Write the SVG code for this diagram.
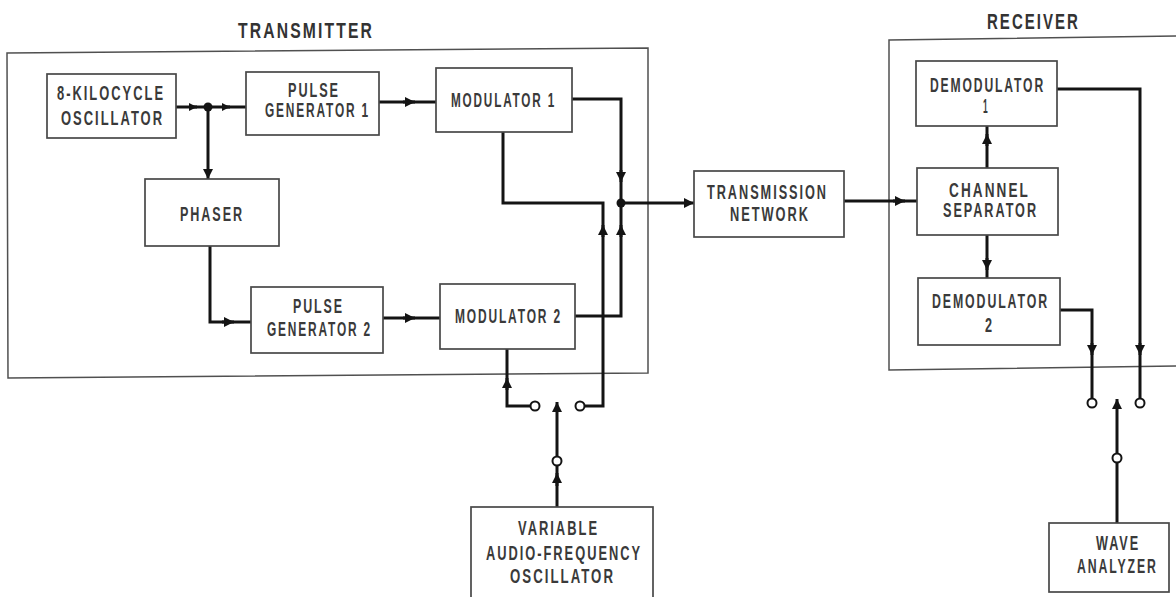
<svg xmlns="http://www.w3.org/2000/svg" width="1176" height="597" viewBox="0 0 1176 597">
<style>
.frame{fill:none;stroke:#505050;stroke-width:1.5}
.box{fill:#fff;stroke:#484848;stroke-width:1.7}
.t{font-family:"Liberation Sans Narrow","Liberation Sans",Arial,sans-serif;font-weight:bold;font-size:19.5px;fill:#3a3a3a;letter-spacing:3px}
.title{font-size:22px;fill:#333}
.w{fill:none;stroke:#141414;stroke-width:3;stroke-linejoin:miter}
.c{fill:#fff;stroke:#141414;stroke-width:2}
.dot{fill:#141414}
</style>
<defs>
<marker id="ah" viewBox="0 0 10 10" refX="10" refY="5" markerWidth="12" markerHeight="10" markerUnits="userSpaceOnUse" orient="auto"><path d="M0,0 L10,5 L0,10 Z" fill="#141414"/></marker>
<marker id="ahs" viewBox="0 0 10 10" refX="10" refY="5" markerWidth="8" markerHeight="8" markerUnits="userSpaceOnUse" orient="auto"><path d="M0,0 L10,5 L0,10 Z" fill="#141414"/></marker>
</defs>
<rect width="1176" height="597" fill="#fff"/>

<g id="transmitter">
<path class="frame" d="M7,53 L648,48 L648,373 L8,378 Z"/>
<text class="t title" x="238" y="38" textLength="136" lengthAdjust="spacingAndGlyphs">TRANSMITTER</text>
</g>
<g id="receiver">
<path class="frame" d="M889,40 L1180,36 L1180,366 L889,370 Z"/>
<text class="t title" x="987" y="29" textLength="93" lengthAdjust="spacingAndGlyphs">RECEIVER</text>
</g>

<g id="connectors">
<path class="w" d="M176,107 H246"/>
<path class="w" d="M189,107 H197" marker-end="url(#ahs)"/>
<path class="w" d="M222,107 H230" marker-end="url(#ahs)"/>
<path class="w" d="M208,107 V179" marker-end="url(#ah)"/>
<path class="w" d="M210,246 V322 H251"/>
<path class="w" d="M222,322 H234" marker-end="url(#ah)"/>
<path class="w" d="M379,102 H436"/>
<path class="w" d="M403,102 H415" marker-end="url(#ah)"/>
<path class="w" d="M383,318 H440"/>
<path class="w" d="M403,318 H415" marker-end="url(#ah)"/>
<path class="w" d="M572,99 H621 V203"/>
<path class="w" d="M621,170 V182" marker-end="url(#ah)"/>
<path class="w" d="M503,132 V203 H603 V406 H584.5"/>
<path class="w" d="M603,237 V225" marker-end="url(#ah)"/>
<path class="w" d="M575,316 H621 V203"/>
<path class="w" d="M621,237 V225" marker-end="url(#ah)"/>
<path class="w" d="M621,203 H694" marker-end="url(#ah)"/>
<path class="w" d="M507,349 V406 H530.5"/>
<path class="w" d="M507,390 V378" marker-end="url(#ah)"/>
<path class="w" d="M557,507 V465.5"/>
<path class="w" d="M557,486 V473" marker-end="url(#ah)"/>
<path class="w" d="M557,456.5 V402" marker-end="url(#ah)"/>
<path class="w" d="M844,201 H917"/>
<path class="w" d="M893,201 H905" marker-end="url(#ah)"/>
<path class="w" d="M987,168 V126"/>
<path class="w" d="M987,146 V134" marker-end="url(#ah)"/>
<path class="w" d="M987,235 V278"/>
<path class="w" d="M987,258 V270" marker-end="url(#ah)"/>
<path class="w" d="M1057,89 H1140 V398.5"/>
<path class="w" d="M1140,343 V355" marker-end="url(#ah)"/>
<path class="w" d="M1060,310 H1092 V398.5"/>
<path class="w" d="M1092,343 V355" marker-end="url(#ah)"/>
<path class="w" d="M1117,523 V462.5"/>
<path class="w" d="M1117,453.5 V399" marker-end="url(#ah)"/>
<circle class="dot" cx="208" cy="107" r="4.5"/>
<circle class="dot" cx="621" cy="203" r="4.5"/>
<circle class="c" cx="535" cy="406" r="4.5"/>
<circle class="c" cx="580" cy="406" r="4.5"/>
<circle class="c" cx="557" cy="461" r="4.5"/>
<circle class="c" cx="1092" cy="403" r="4.5"/>
<circle class="c" cx="1140" cy="403" r="4.5"/>
<circle class="c" cx="1117" cy="458" r="4.5"/>
</g>

<g id="oscillator">
<rect class="box" x="47" y="74" width="129" height="64"/>
<text class="t" x="57" y="100" textLength="108" lengthAdjust="spacingAndGlyphs">8-KILOCYCLE</text>
<text class="t" x="61" y="125" textLength="103" lengthAdjust="spacingAndGlyphs">OSCILLATOR</text>
</g>
<g id="pulse-generator-1">
<rect class="box" x="246" y="72" width="133" height="63"/>
<text class="t" x="288" y="97" textLength="52" lengthAdjust="spacingAndGlyphs">PULSE</text>
<text class="t" x="265" y="117" textLength="105" lengthAdjust="spacingAndGlyphs">GENERATOR 1</text>
</g>
<g id="phaser">
<rect class="box" x="145" y="179" width="134" height="67"/>
<text class="t" x="180" y="221" textLength="64" lengthAdjust="spacingAndGlyphs">PHASER</text>
</g>
<g id="pulse-generator-2">
<rect class="box" x="251" y="287" width="132" height="66"/>
<text class="t" x="293" y="313" textLength="51" lengthAdjust="spacingAndGlyphs">PULSE</text>
<text class="t" x="267" y="336" textLength="105" lengthAdjust="spacingAndGlyphs">GENERATOR 2</text>
</g>
<g id="modulator-1">
<rect class="box" x="436" y="68" width="136" height="64"/>
<text class="t" x="451" y="107" textLength="105" lengthAdjust="spacingAndGlyphs">MODULATOR 1</text>
</g>
<g id="modulator-2">
<rect class="box" x="440" y="284" width="135" height="65"/>
<text class="t" x="455" y="323" textLength="107" lengthAdjust="spacingAndGlyphs">MODULATOR 2</text>
</g>
<g id="audio-oscillator">
<rect class="box" x="471" y="507" width="182" height="93"/>
<text class="t" x="518" y="535" textLength="81" lengthAdjust="spacingAndGlyphs">VARIABLE</text>
<text class="t" x="486" y="560" textLength="156" lengthAdjust="spacingAndGlyphs">AUDIO-FREQUENCY</text>
<text class="t" x="510" y="583" textLength="105" lengthAdjust="spacingAndGlyphs">OSCILLATOR</text>
</g>
<g id="transmission-network">
<rect class="box" x="694" y="171" width="150" height="66"/>
<text class="t" x="707" y="199" textLength="121" lengthAdjust="spacingAndGlyphs">TRANSMISSION</text>
<text class="t" x="730" y="221" textLength="80" lengthAdjust="spacingAndGlyphs">NETWORK</text>
</g>
<g id="demodulator-1">
<rect class="box" x="916" y="61" width="141" height="65"/>
<text class="t" x="930" y="92" textLength="115" lengthAdjust="spacingAndGlyphs">DEMODULATOR</text>
<text class="t" x="983" y="113" textLength="6" lengthAdjust="spacingAndGlyphs">1</text>
</g>
<g id="channel-separator">
<rect class="box" x="917" y="168" width="141" height="67"/>
<text class="t" x="949" y="197" textLength="81" lengthAdjust="spacingAndGlyphs">CHANNEL</text>
<text class="t" x="943" y="217" textLength="95" lengthAdjust="spacingAndGlyphs">SEPARATOR</text>
</g>
<g id="demodulator-2">
<rect class="box" x="918" y="278" width="142" height="67"/>
<text class="t" x="932" y="308" textLength="117" lengthAdjust="spacingAndGlyphs">DEMODULATOR</text>
<text class="t" x="985" y="332" textLength="9" lengthAdjust="spacingAndGlyphs">2</text>
</g>
<g id="wave-analyzer">
<rect class="box" x="1049" y="523" width="120" height="69"/>
<text class="t" transform="translate(1096,550) scale(0.65,1)" x="0" y="0">WAVE</text>
<text class="t" transform="translate(1077,573) scale(0.63,1)" x="0" y="0">ANALYZER</text>
</g>
</svg>
